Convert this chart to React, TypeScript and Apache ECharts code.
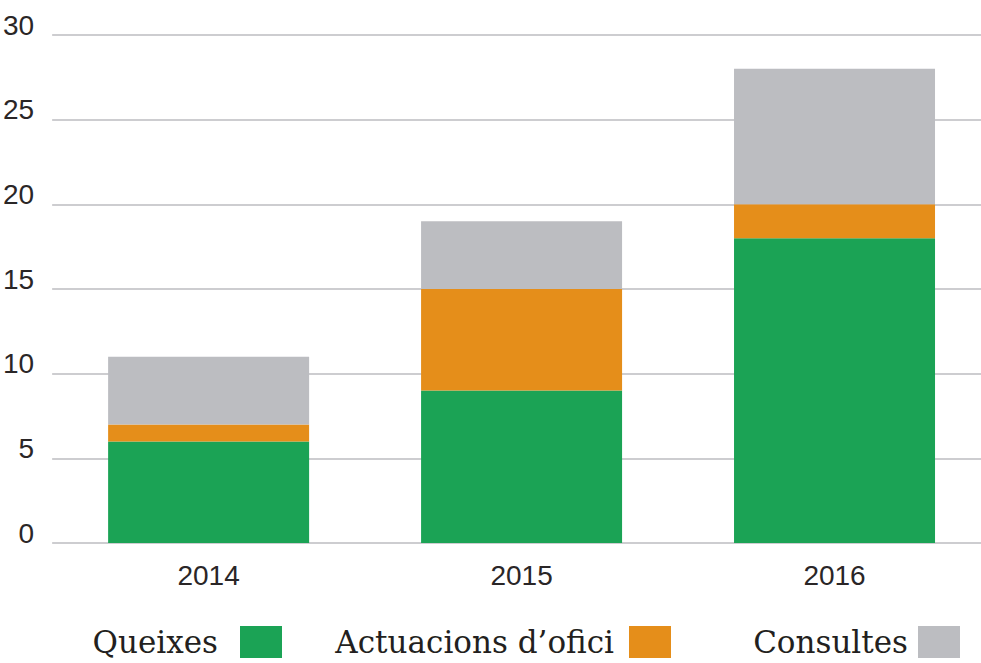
import React, { useEffect, useRef } from "react";
import * as echarts from "echarts";

const years = ["2014", "2015", "2016"];
const queixes = [6, 9, 18];
const actuacions = [1, 6, 2];
const consultes = [4, 4, 8];
const seriesNames = ["Queixes", "Actuacions d\u2019ofici", "Consultes"];
const colors = ["#1ba355", "#e58e1a", "#bcbdc1"];

const W = 991;
const H = 663;

export default function App() {
  const ref = useRef<HTMLDivElement>(null);
  useEffect(() => {
    document.body.style.margin = "0";
    document.body.style.overflow = "hidden";
    const chart = echarts.init(ref.current!, null, { renderer: "svg" });
    const axisFont = "'Liberation Sans Narrow', 'Liberation Sans', sans-serif";
    const legendFont = "'DejaVu Serif', serif";
    const iconRights = [282, 671, 960];
    const textGaps = [17, 10, 5];
    const data = [queixes, actuacions, consultes];
    chart.setOption({
      animation: false,
      grid: { left: 52, right: 0, top: 35, bottom: H - 543, containLabel: false },
      xAxis: {
        type: "category",
        data: years,
        axisLine: { show: false },
        axisTick: { show: false },
        axisLabel: { fontFamily: axisFont, fontSize: 28, color: "#2a2627", margin: 18 },
      },
      yAxis: {
        type: "value",
        min: 0,
        max: 30,
        interval: 5,
        axisLine: { show: false },
        axisTick: { show: false },
        splitLine: { lineStyle: { color: "#bdbdc0", width: 1.5 } },
        axisLabel: {
          fontFamily: axisFont,
          fontSize: 28,
          color: "#2a2627",
          margin: 18,
          verticalAlign: "bottom",
          lineHeight: 20,
        },
      },
      legend: seriesNames.map((n, i) => ({
        data: [n],
        right: W - iconRights[i],
        top: 626,
        align: "right",
        orient: "horizontal",
        padding: 0,
        itemWidth: 42,
        itemHeight: 32,
        icon: "rect",
        selectedMode: false,
        textStyle: {
          fontFamily: legendFont,
          fontSize: 31,
          lineHeight: 32,
          color: "#231f20",
          padding: [0, textGaps[i], 0, 0],
        },
      })),
      series: seriesNames.map((n, i) => ({
        name: n,
        type: "bar",
        stack: "total",
        barWidth: 201,
        data: data[i],
        itemStyle: { color: colors[i] },
      })),
    });
    return () => chart.dispose();
  }, []);
  return (
    <div
      ref={ref}
      style={{ position: "absolute", left: 0, top: 0, width: W, height: H }}
    />
  );
}
